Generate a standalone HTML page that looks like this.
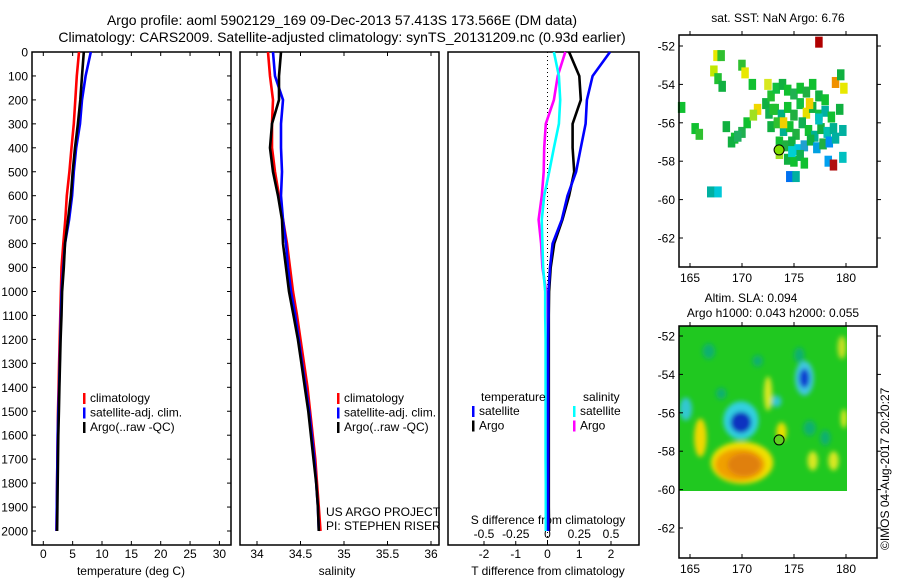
<!DOCTYPE html>
<html><head><meta charset="utf-8"><style>
html,body{margin:0;padding:0;background:#fff;}
svg{display:block;font-family:"Liberation Sans",sans-serif;}
</style></head><body>
<svg id="fig" width="900" height="580" viewBox="0 0 900 580" xmlns="http://www.w3.org/2000/svg">
<defs><filter id="blur" x="-20%" y="-20%" width="140%" height="140%"><feGaussianBlur stdDeviation="2.5"/></filter>
<clipPath id="slaclip"><rect x="679" y="326" width="168" height="165"/></clipPath></defs>
<text x="342" y="25" font-size="14" text-anchor="middle">Argo profile: aoml 5902129_169 09-Dec-2013 57.413S 173.566E (DM data)</text>
<text x="342" y="42" font-size="14" text-anchor="middle">Climatology: CARS2009. Satellite-adjusted climatology: synTS_20131209.nc (0.93d earlier)</text>
<g id="layer"></g>
</svg>
<script>
const depths=[0,100,200,300,400,500,600,700,800,900,1000,1100,1200,1300,1400,1500,1600,1700,1800,1900,2000];
const tempClim=[6.08,5.7,5.45,5.2,4.8,4.45,4.0,3.75,3.4,3.1,3.0,2.9,2.8,2.7,2.6,2.5,2.45,2.4,2.35,2.3,2.25];
const tempSat=[8.1,7.2,6.6,6.25,5.6,5.2,4.9,4.4,3.7,3.4,3.1,3.0,2.9,2.8,2.7,2.55,2.45,2.4,2.35,2.3,2.25];
const tempArgo=[6.9,6.6,6.3,5.9,5.4,5.0,4.7,4.2,3.7,3.5,3.2,3.1,2.95,2.85,2.75,2.65,2.55,2.5,2.45,2.4,2.35];
const salClim=[34.126,34.149,34.184,34.172,34.172,34.207,34.253,34.299,34.345,34.379,34.414,34.46,34.5,34.54,34.58,34.61,34.64,34.67,34.69,34.71,34.73];
const salSat=[34.184,34.207,34.299,34.276,34.276,34.287,34.276,34.299,34.333,34.356,34.391,34.44,34.48,34.52,34.56,34.6,34.63,34.66,34.68,34.70,34.71];
const salArgo=[34.276,34.253,34.253,34.172,34.149,34.184,34.241,34.287,34.299,34.333,34.368,34.42,34.47,34.51,34.55,34.59,34.62,34.65,34.68,34.70,34.71];
const tDiffSat=[1.97,1.42,1.24,1.2,1.05,0.9,0.63,0.45,0.16,0.08,0.03,0.03,0.02,0.02,0.02,0.02,0.02,0.02,0.02,0.02,0.02];
const tDiffArgo=[0.68,1.0,1.05,0.79,0.79,0.84,0.68,0.47,0.21,0.1,0.05,0.04,0.04,0.04,0.04,0.04,0.04,0.04,0.04,0.04,0.05];
const sDiffSat=[0.05,0.09,0.1,0.09,0.05,0.013,-0.026,-0.045,-0.04,-0.035,-0.018,-0.018,-0.015,-0.015,-0.015,-0.015,-0.015,-0.015,-0.013,-0.013,-0.013];
const sDiffArgo=[0.14,0.08,0.05,-0.013,-0.026,-0.03,-0.045,-0.07,-0.05,-0.04,-0.01,-0.008,-0.005,-0.003,0,0,0,0,0,0,0];
const depthTicks=[0,100,200,300,400,500,600,700,800,900,1000,1100,1200,1300,1400,1500,1600,1700,1800,1900,2000];
const tempTicks=[0,5,10,15,20,25,30];
const salTicks=[34,34.5,35,35.5,36];
const salTickLabels=["34","34.5","35","35.5","36"];
const tDiffTicks=[-2,-1,0,1,2];
const sDiffTicks=[-0.5,-0.25,0,0.25,0.5];
const sDiffTickLabels=["-0.5","-0.25","0","0.25","0.5"];
const lonTicks=[165,170,175,180];
const latTicks=[-52,-54,-56,-58,-60,-62];
const sstLon=[177.4,167.6,168.0,167.3,167.7,168.1,170.0,170.3,171.0,164.2,165.5,165.9,168.5,169.3,170.0,169.0,170.5,169.6,171.5,171.1,172.3,172.8,173.3,173.9,174.4,175.0,175.6,176.2,176.8,177.4,178.0,172.6,173.2,173.8,174.4,175.0,175.6,176.2,176.8,177.4,178.0,178.6,179.4,172.8,173.4,174.0,174.6,175.2,175.8,176.4,177.0,177.6,178.2,178.8,173.6,174.2,174.8,175.4,176.0,176.6,177.2,177.8,178.4,179.0,174.4,175.0,175.6,178.3,178.8,179.7,179.0,179.8,179.5,176.5,177.4,174.6,175.2,167.0,167.7,173.6,174.0,172.5,173.0,176.0,174.8,179.7];
const sstLat=[-51.8,-52.5,-52.5,-53.3,-53.7,-54.1,-53.0,-53.4,-54.0,-55.2,-56.3,-56.6,-56.2,-56.8,-56.5,-57.0,-56.0,-56.7,-55.3,-55.6,-55.0,-54.6,-54.2,-54.0,-54.3,-54.5,-54.2,-54.4,-54.0,-54.6,-54.8,-55.5,-55.3,-55.6,-55.2,-55.6,-55.0,-55.5,-55.2,-55.6,-55.4,-55.7,-55.3,-56.2,-56.0,-56.4,-56.2,-56.6,-56.0,-56.4,-56.7,-56.3,-56.5,-56.3,-57.0,-57.2,-57.0,-57.4,-57.2,-56.9,-57.3,-57.1,-57.0,-56.8,-57.9,-58.0,-57.7,-58.0,-58.2,-57.8,-53.9,-54.2,-53.5,-55.0,-55.8,-58.8,-58.8,-59.6,-59.6,-57.6,-56.0,-54.0,-55.3,-58.1,-57.5,-56.4];
const sstCol=["#b00000","#e8e800","#30c030","#c0e800","#20c030","#10b040","#30c030","#e8e800","#10c030","#10c030","#10c030","#30c030","#10b040","#10c030","#20b050","#10b040","#10c030","#20b060","#f0d800","#a0e020","#10b040","#20c030","#10c040","#10b040","#10c030","#20b050","#10c030","#20b040","#10c030","#10b040","#10c030","#10b050","#20c030","#00b080","#10c030","#20b040","#10c040","#e8e000","#10b040","#10c040","#00b0a0","#10c030","#10b040","#10b040","#30c030","#00b090","#10c030","#20b040","#10b050","#10c030","#00b090","#10b040","#00c0b0","#00b090","#10c030","#20b040","#10b040","#00c0e0","#20a0d0","#10b040","#00a0e0","#20b040","#0090f0","#00b0a0","#10b040","#10c030","#10b050","#00a0f0","#b01010","#00c0c0","#f09000","#e8e800","#10b040","#f0d000","#00c0c0","#0070f0","#00b0a0","#00b0a0","#00c8d8","#a0e020","#f0d000","#d8e820","#20c030","#10c030","#00d0d0","#00b0a0"];
const slaLon=[169.9,169.9,176.0,176.0,164.6,173.3,170.0,169.8,170.2,166.0,172.5,173.8,176.8,178.8,179.6,179.8,171.5,175.5,168.0,176.5,178.0,166.8];
const slaLat=[-56.4,-56.5,-54.2,-54.2,-55.8,-55.4,-58.6,-58.7,-58.7,-57.3,-55.0,-57.0,-58.5,-58.5,-52.6,-56.3,-53.3,-53.0,-55.0,-56.8,-57.3,-52.8];
const slaRx=[1.7,1.0,0.9,0.5,0.6,0.5,3.0,2.4,1.6,0.6,0.4,0.5,0.5,0.5,0.4,0.3,0.5,0.5,0.5,0.6,0.5,0.6];
const slaRy=[1.0,0.55,0.9,0.5,0.6,0.3,1.1,0.85,0.6,1.0,0.9,0.5,0.5,0.5,0.6,0.5,0.3,0.4,0.3,0.4,0.4,0.4];
const slaCol=["#30d0e0","#1030c0","#40c8e0","#1040d0","#30c8d0","#30c8d0","#f0e000","#f0a000","#e08010","#f0d800","#d8e820","#e8e000","#d8e820","#d8e820","#c8e020","#d8e820","#10b070","#10b070","#10b070","#10b070","#10b070","#10b070"];

const NS="http://www.w3.org/2000/svg";
const L=document.getElementById('layer');
function el(tag,attrs,parent){const e=document.createElementNS(NS,tag);for(const k in attrs)e.setAttribute(k,attrs[k]);(parent||L).appendChild(e);return e;}
function txt(s,x,y,anchor,size){const t=el('text',{x:x,y:y,'text-anchor':anchor||'start','font-size':size||12});t.textContent=s;return t;}
const TOP=52,BOT=545;
function yD(d){return TOP+d*0.2395;}
function xT(v){return 43.3+v*5.87;}
function xS(v){return 257+(v-34)*87;}
function xTd(v){return 547.5+v*31.75;}
function xSd(v){return 547.5+v*127;}
function pts(vals,xf){return vals.map((v,i)=>xf(v).toFixed(1)+','+yD(depths[i]).toFixed(1)).join(' ');}
function line(vals,xf,col,name){const p=el('polyline',{points:pts(vals,xf),fill:'none',stroke:col,'stroke-width':2.6,'stroke-linejoin':'miter'});

}
function frame(x0,x1,name){const r=el('rect',{x:x0,y:TOP,width:x1-x0,height:BOT-TOP,fill:'none',stroke:'#000','stroke-width':1.5});

}

frame(32,231,'temperature-panel-frame');
depthTicks.forEach(d=>{const y=yD(d);el('line',{x1:32,x2:36,y1:y,y2:y,stroke:'#000'});el('line',{x1:227,x2:231,y1:y,y2:y,stroke:'#000'});
const t=txt(String(d),28,y+4.5,'end',12);

});
tempTicks.forEach(v=>{const x=xT(v);el('line',{x1:x,x2:x,y1:BOT,y2:BOT-4,stroke:'#000'});el('line',{x1:x,x2:x,y1:TOP,y2:TOP+4,stroke:'#000'});
const t=txt(String(v),x,558,'middle',12);

});
let t1=txt('temperature (deg C)',131,575,'middle',12);


line(tempClim,xT,'#ff0000','temperature-climatology-line');
line(tempSat,xT,'#0000ff','temperature-satellite-line');
line(tempArgo,xT,'#000000','temperature-argo-line');
function legend(x,y,items,name){const g=el('g',{});

items.forEach((it,i)=>{el('rect',{x:x,y:y+i*14.5-9,width:2.5,height:11,fill:it[1]},g);const t=el('text',{x:x+7,y:y+i*14.5,'font-size':12},g);t.textContent=it[0];});}
legend(83,402,[['climatology','#ff0000'],['satellite-adj. clim.','#0000ff'],['Argo(..raw -QC)','#000']],'temperature-legend');

frame(240,439,'salinity-panel-frame');
salTicks.forEach((v,i)=>{const x=xS(v);el('line',{x1:x,x2:x,y1:BOT,y2:BOT-4,stroke:'#000'});el('line',{x1:x,x2:x,y1:TOP,y2:TOP+4,stroke:'#000'});
const t=txt(salTickLabels[i],x,558,'middle',12);

});
let t2=txt('salinity',337,575,'middle',12);


line(salClim,xS,'#ff0000','salinity-climatology-line');
line(salSat,xS,'#0000ff','salinity-satellite-line');
line(salArgo,xS,'#000000','salinity-argo-line');
legend(337,402,[['climatology','#ff0000'],['satellite-adj. clim.','#0000ff'],['Argo(..raw -QC)','#000']],'salinity-legend');
let pi1=txt('US ARGO PROJECT',326,516,'start',12);


let pi2=txt('PI: STEPHEN RISER',326,530,'start',12);



frame(448,639,'difference-panel-frame');
const zl=el('line',{x1:xTd(0),x2:xTd(0),y1:TOP,y2:BOT,stroke:'#000','stroke-dasharray':'1,3'});


tDiffTicks.forEach(v=>{const x=xTd(v);el('line',{x1:x,x2:x,y1:BOT,y2:BOT-4,stroke:'#000'});
const t=txt(String(v),x,558,'middle',12);

});
sDiffTicks.forEach((v,i)=>{const t=txt(sDiffTickLabels[i],xSd(v),538,'middle',12);

});
let t3=txt('S difference from climatology',548,524,'middle',12);


let t4=txt('T difference from climatology',548,575,'middle',12);


line(sDiffArgo,xSd,'#ff00ff','salinity-argo-difference-line');
line(sDiffSat,xSd,'#00ffff','salinity-satellite-difference-line');
line(tDiffArgo,xTd,'#000000','temperature-argo-difference-line');
line(tDiffSat,xTd,'#0000ff','temperature-satellite-difference-line');
let lt=txt('temperature',481,401,'start',12);


let ls=txt('salinity',583,401,'start',12);


legend(472,415,[['satellite','#0000ff'],['Argo','#000']],'temperature-difference-legend');
legend(573,415,[['satellite','#00ffff'],['Argo','#ff00ff']],'salinity-difference-legend');

const MX0=679,MX1=877;
function xLon(l){return 690+(l-165)*10.4;}
function mapAxes(y0,y1,lat52y,name){const r=el('rect',{x:MX0,y:y0,width:MX1-MX0,height:y1-y0,fill:'none',stroke:'#000','stroke-width':1.5});


const yl=l=>lat52y+(-52-l)*19.2;
latTicks.forEach(l=>{const y=yl(l);el('line',{x1:MX0,x2:MX0+4,y1:y,y2:y,stroke:'#000'});el('line',{x1:MX1,x2:MX1+4,y1:y,y2:y,stroke:'#000'});
const t=txt(String(l),675,y+4.5,'end',12);

});
lonTicks.forEach(l=>{const x=xLon(l);el('line',{x1:x,x2:x,y1:y1,y2:y1-4,stroke:'#000'});el('line',{x1:x,x2:x,y1:y0,y2:y0-4,stroke:'#000'});
const t=txt(String(l),x,y1+15,'middle',12);

});
return yl;}
const ylA=l=>46+(-52-l)*19.2;
sstLon.forEach((lo,i)=>{const r=el('rect',{x:xLon(lo)-3.8,y:ylA(sstLat[i])-5.5,width:7.5,height:11,fill:sstCol[i]});

});
mapAxes(35,267,46,'sst-map-frame');
let c1=el('circle',{cx:xLon(173.566),cy:ylA(-57.413),r:5,fill:'#80e000',stroke:'#000'});


let st=txt('sat. SST: NaN Argo: 6.76',778,22,'middle',12);


const ylB=l=>336+(-52-l)*19.2;
const g=el('g',{'clip-path':'url(#slaclip)'});


el('rect',{x:679,y:326,width:168,height:165,fill:'#20c820'},g);
const gb=el('g',{filter:'url(#blur)'},g);
slaLon.forEach((lo,i)=>{const e=el('ellipse',{cx:xLon(lo),cy:ylB(slaLat[i]),rx:slaRx[i]*10.4,ry:slaRy[i]*19.2,fill:slaCol[i]},gb);

});
mapAxes(326,558,336,'sla-map-frame');
let c2=el('circle',{cx:xLon(173.566),cy:ylB(-57.413),r:5,fill:'#60d020',stroke:'#000'});


let s1=txt('Altim. SLA: 0.094',751,302,'middle',12);


let s2=txt('Argo h1000: 0.043 h2000: 0.055',773,317,'middle',12);


let cp=el('text',{x:0,y:0,'font-size':12,transform:'translate(889,550) rotate(-90)'});
cp.textContent='©IMOS 04-Aug-2017 20:20:27';


</script>
</body></html>
